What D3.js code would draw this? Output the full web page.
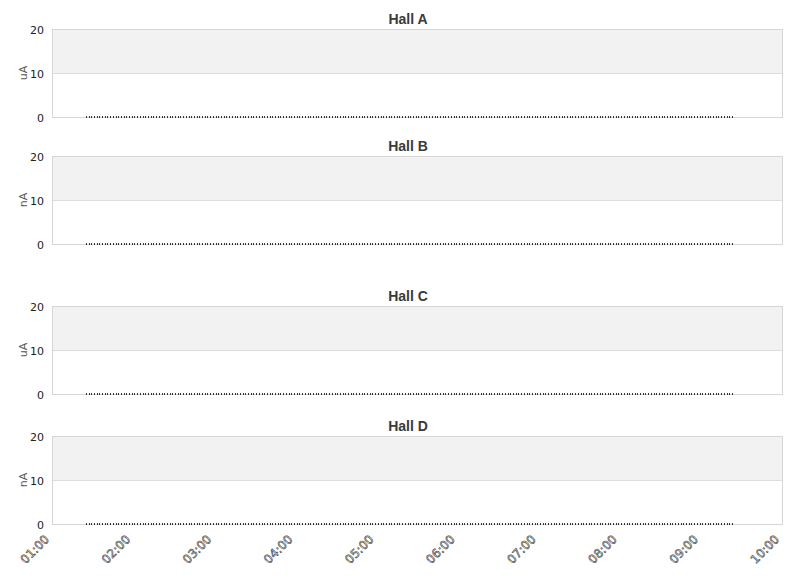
<!DOCTYPE html>
<html>
<head>
<meta charset="utf-8">
<script src="https://cdn.jsdelivr.net/npm/d3@7"></script>
<style>
  body { margin: 0; background: #fff; }
  svg { display: block; }
</style>
</head>
<body>
<script>
// beam current per hall, sampled every 2 minutes from 01:25 to 09:23
var halls = ['Hall A', 'Hall B', 'Hall C', 'Hall D'];
var units = ['uA', 'nA', 'uA', 'nA'];
var yTicks = [0, 10, 20];
var xTickLabels = ['01:00', '02:00', '03:00', '04:00', '05:00', '06:00', '07:00', '08:00', '09:00', '10:00'];
var sampleStart = '01:25';
var sampleStepMin = 2;

// all halls read zero for the whole window
var hallAValues = [0,0,0,0,0,0,0,0,0,0,0,0,0,0,0,0,0,0,0,0,0,0,0,0,0,0,0,0,0,0,0,0,0,0,0,0,0,0,0,0,
  0,0,0,0,0,0,0,0,0,0,0,0,0,0,0,0,0,0,0,0,0,0,0,0,0,0,0,0,0,0,0,0,0,0,0,0,0,0,0,0,
  0,0,0,0,0,0,0,0,0,0,0,0,0,0,0,0,0,0,0,0,0,0,0,0,0,0,0,0,0,0,0,0,0,0,0,0,0,0,0,0,
  0,0,0,0,0,0,0,0,0,0,0,0,0,0,0,0,0,0,0,0,0,0,0,0,0,0,0,0,0,0,0,0,0,0,0,0,0,0,0,0,
  0,0,0,0,0,0,0,0,0,0,0,0,0,0,0,0,0,0,0,0,0,0,0,0,0,0,0,0,0,0,0,0,0,0,0,0,0,0,0,0,
  0,0,0,0,0,0,0,0,0,0,0,0,0,0,0,0,0,0,0,0,0,0,0,0,0,0,0,0,0,0,0,0,0,0,0,0,0,0,0,0];
var hallBValues = hallAValues.slice();
var hallCValues = hallAValues.slice();
var hallDValues = hallAValues.slice();
var hallValues = [hallAValues, hallBValues, hallCValues, hallDValues];

var width = 811;
var height = 578;
var left = 52, right = 782;
var panelTops = [29, 156, 306, 436];
var panelHeight = 88;

var parse = d3.timeParse('%H:%M');
var t0 = parse(sampleStart);

var svg = d3.select('body').append('svg')
  .attr('width', width)
  .attr('height', height);

var x = d3.scaleTime()
  .domain([parse(xTickLabels[0]), parse(xTickLabels[xTickLabels.length - 1])])
  .range([left, right]);

halls.forEach(function(name, i) {
  var top = panelTops[i];
  var y = d3.scaleLinear().domain([0, 20]).range([top + panelHeight, top]);
  var g = svg.append('g');

  // upper band
  g.append('rect')
    .attr('x', left).attr('y', y(20))
    .attr('width', right - left).attr('height', y(10) - y(20))
    .attr('fill', '#f2f2f2');

  // grid line at 10
  g.append('line')
    .attr('x1', left).attr('x2', right)
    .attr('y1', y(10) + 0.5).attr('y2', y(10) + 0.5)
    .attr('stroke', '#dddddd');

  // frame
  g.append('rect')
    .attr('x', left + 0.5).attr('y', y(20) + 0.5)
    .attr('width', right - left).attr('height', y(0) - y(20))
    .attr('fill', 'none')
    .attr('stroke', '#d6d6d6');

  // y ticks
  g.selectAll('.ytick').data(yTicks).enter().append('text')
    .attr('x', 44)
    .attr('y', function(d) { return y(d) + 4.5; })
    .attr('text-anchor', 'end')
    .attr('font-family', 'DejaVu Sans')
    .attr('font-size', 11)
    .attr('fill', '#222')
    .text(function(d) { return d; });

  // unit label
  g.append('text')
    .attr('transform', 'translate(27,' + y(10) + ') rotate(-90)')
    .attr('text-anchor', 'middle')
    .attr('font-family', 'DejaVu Sans')
    .attr('font-size', 11)
    .attr('fill', '#555')
    .text(units[i]);

  // title
  g.append('text')
    .attr('x', 408)
    .attr('y', top - 5)
    .attr('text-anchor', 'middle')
    .attr('font-family', 'Liberation Sans, Arial, sans-serif')
    .attr('font-weight', 'bold')
    .attr('font-size', 14)
    .attr('fill', '#3a3a3a')
    .text(name);

  // samples
  var pts = hallValues[i].map(function(v, k) {
    return { t: d3.timeMinute.offset(t0, k * sampleStepMin), v: v };
  });
  g.selectAll('.pt').data(pts).enter().append('rect')
    .attr('x', function(d) { return Math.round(x(d.t)); })
    .attr('y', function(d) { return y(d.v) - 1; })
    .attr('width', 1)
    .attr('height', 2)
    .attr('fill', '#333');
});

// x axis labels under the last panel
var bottom = panelTops[3] + panelHeight;
svg.selectAll('.xtick').data(xTickLabels).enter().append('text')
  .attr('transform', function(d) {
    return 'translate(' + (x(parse(d)) - 2) + ',' + (bottom + 16) + ') rotate(-45)';
  })
  .attr('text-anchor', 'end')
  .attr('font-family', 'DejaVu Sans')
  .attr('font-size', 12)
  .attr('fill', '#fff')
  .attr('stroke', '#444')
  .attr('stroke-width', 0.6)
  .text(function(d) { return d; });
</script>
</body>
</html>
